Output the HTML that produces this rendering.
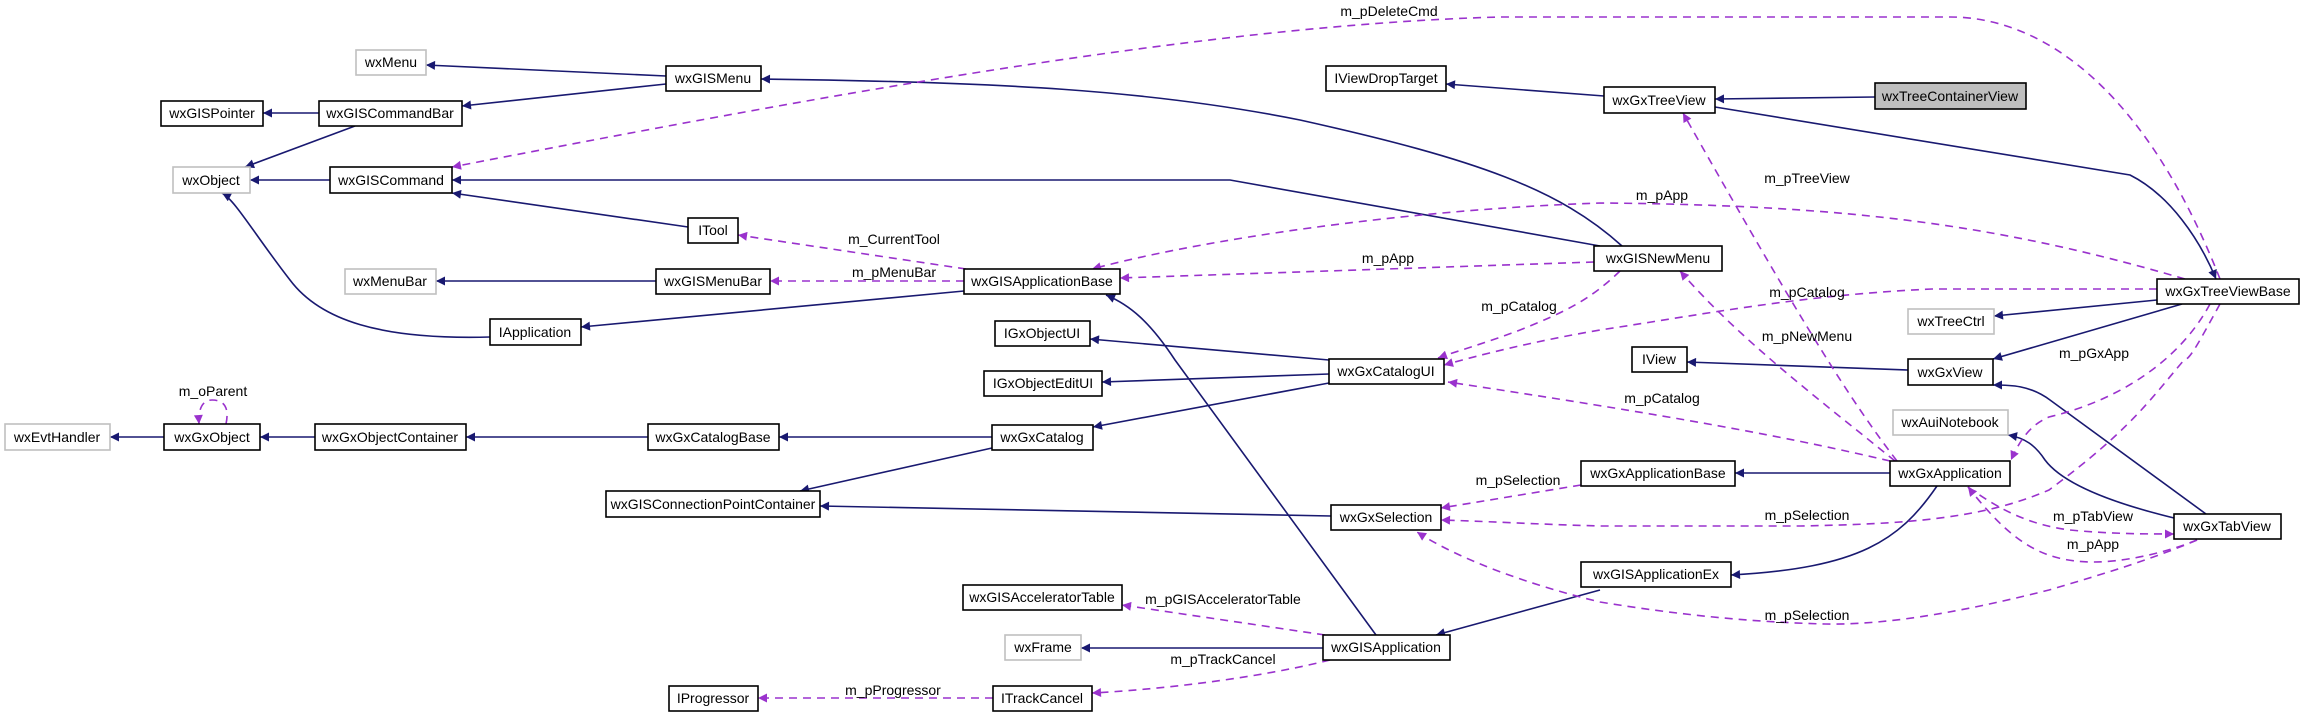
<!DOCTYPE html>
<html><head><meta charset="utf-8"><style>
html,body{margin:0;padding:0;background:#fff;}
svg{display:block;}
text{font-family:"Liberation Sans",sans-serif;font-size:14px;fill:#000;}
</style></head><body>
<svg width="2304" height="717" viewBox="0 0 2304 717" xmlns="http://www.w3.org/2000/svg">
<defs>
<marker id="n" viewBox="0 0 10 10" refX="10" refY="5" markerWidth="11" markerHeight="9" markerUnits="userSpaceOnUse" orient="auto"><path d="M0,0 L10,5 L0,10 z" fill="#191970"/></marker>
<marker id="p" viewBox="0 0 10 10" refX="10" refY="5" markerWidth="11" markerHeight="9" markerUnits="userSpaceOnUse" orient="auto"><path d="M0,0 L10,5 L0,10 z" fill="#9a32cd"/></marker>
</defs>
<g fill="none" stroke="#191970" stroke-width="1.6" marker-end="url(#n)">
<path d="M666,76 L426,65"/>
<path d="M666,84 L462,106"/>
<path d="M319,113 L263,113"/>
<path d="M355,126 L245,167"/>
<path d="M330,180 L250,180"/>
<path d="M688,227 L452,193"/>
<path d="M656,281 L436,281"/>
<path d="M490,337 C380,340 320,320 290,280 C255,235 235,200 222,193"/>
<path d="M964,291 L581,327"/>
<path d="M1622,246 C1560,190 1480,160 1300,120 C1150,90 1000,82 761,79"/>
<path d="M1600,246 L1230,180 L452,180"/>
<path d="M1604,96 L1446,84"/>
<path d="M1875,97 L1715,99"/>
<path d="M1715,107 L2130,175 C2170,195 2200,240 2216,279"/>
<path d="M2157,300 L1994,316"/>
<path d="M2182,304 L1993,359"/>
<path d="M1908,370 L1687,362"/>
<path d="M2206,514 L2050,400 C2030,385 2010,385 1993,385"/>
<path d="M2174,518 C2100,500 2060,480 2045,460 C2035,445 2025,438 2008,435"/>
<path d="M1890,473 L1735,473"/>
<path d="M1937,486 C1900,540 1860,568 1731,575"/>
<path d="M1600,590 L1436,635"/>
<path d="M1376,635 L1175,360 C1150,322 1130,305 1106,295"/>
<path d="M1323,648 L1081,648"/>
<path d="M1329,360 L1090,339"/>
<path d="M1329,374 L1102,382"/>
<path d="M1329,383 L1093,427"/>
<path d="M992,437 L779,437"/>
<path d="M992,448 L800,491"/>
<path d="M648,437 L466,437"/>
<path d="M315,437 L260,437"/>
<path d="M164,437 L110,437"/>
<path d="M1331,516 L820,506"/>
</g>
<g fill="none" stroke="#9a32cd" stroke-width="1.6" stroke-dasharray="8,6" marker-end="url(#p)">
<path d="M2220,279 C2150,100 2050,17 1950,17 L1500,17 C1200,25 800,100 452,167"/>
<path d="M966,269 L738,235"/>
<path d="M964,281 L770,281"/>
<path d="M2185,279 C2000,225 1850,205 1600,203 C1400,210 1200,240 1092,269"/>
<path d="M1594,262 L1120,278"/>
<path d="M1897,461 C1850,400 1800,320 1683,113"/>
<path d="M1620,271 C1590,300 1565,312 1520,330 C1480,345 1460,350 1438,358"/>
<path d="M2157,289 L1932,289 C1800,295 1700,315 1600,330 C1530,342 1480,355 1444,365"/>
<path d="M1895,461 C1820,400 1740,340 1680,271"/>
<path d="M1890,461 C1800,440 1700,420 1448,382"/>
<path d="M2210,304 C2180,360 2120,400 2049,417 C2030,425 2020,440 2011,460"/>
<path d="M2220,304 C2200,340 2190,360 2184,360 C2150,400 2130,430 2049,490 C1980,520 1900,524 1800,526 L1600,526 C1530,524 1480,521 1441,520"/>
<path d="M1581,485 L1441,508"/>
<path d="M1968,487 C2000,510 2030,525 2070,530 C2110,534 2150,534 2174,534"/>
<path d="M2197,540 C2160,555 2120,562 2094,562 C2040,562 2010,540 1968,487"/>
<path d="M2197,540 C2150,560 2100,575 2049,590 C1950,615 1880,625 1825,624 C1750,622 1680,615 1600,602 C1530,585 1460,560 1417,532"/>
<path d="M1325,635 L1122,605"/>
<path d="M1330,660 C1250,680 1150,690 1092,693"/>
<path d="M993,698 L758,698"/>
<path d="M226,424 C230,405 222,400 212,400 C202,400 198,410 199,424"/>
</g>
<g stroke-width="1.6">
<rect x="356" y="50" width="70" height="25" fill="#fff" stroke="#bfbfbf"/>
<rect x="666" y="66" width="95" height="25" fill="#fff" stroke="#000"/>
<rect x="161" y="101" width="102" height="25" fill="#fff" stroke="#000"/>
<rect x="319" y="101" width="143" height="25" fill="#fff" stroke="#000"/>
<rect x="173" y="167" width="77" height="26" fill="#fff" stroke="#bfbfbf"/>
<rect x="330" y="167" width="122" height="26" fill="#fff" stroke="#000"/>
<rect x="688" y="218" width="50" height="25" fill="#fff" stroke="#000"/>
<rect x="345" y="269" width="91" height="25" fill="#fff" stroke="#bfbfbf"/>
<rect x="656" y="269" width="114" height="25" fill="#fff" stroke="#000"/>
<rect x="490" y="319" width="91" height="26" fill="#fff" stroke="#000"/>
<rect x="5" y="424" width="105" height="26" fill="#fff" stroke="#bfbfbf"/>
<rect x="164" y="424" width="96" height="26" fill="#fff" stroke="#000"/>
<rect x="315" y="424" width="151" height="26" fill="#fff" stroke="#000"/>
<rect x="648" y="424" width="131" height="26" fill="#fff" stroke="#000"/>
<rect x="606" y="491" width="214" height="26" fill="#fff" stroke="#000"/>
<rect x="669" y="686" width="89" height="25" fill="#fff" stroke="#000"/>
<rect x="1326" y="66" width="120" height="25" fill="#fff" stroke="#000"/>
<rect x="964" y="269" width="156" height="25" fill="#fff" stroke="#000"/>
<rect x="995" y="321" width="95" height="25" fill="#fff" stroke="#000"/>
<rect x="1329" y="359" width="115" height="25" fill="#fff" stroke="#000"/>
<rect x="984" y="371" width="118" height="25" fill="#fff" stroke="#000"/>
<rect x="992" y="425" width="101" height="25" fill="#fff" stroke="#000"/>
<rect x="1331" y="505" width="110" height="25" fill="#fff" stroke="#000"/>
<rect x="963" y="585" width="159" height="25" fill="#fff" stroke="#000"/>
<rect x="1005" y="635" width="76" height="25" fill="#fff" stroke="#bfbfbf"/>
<rect x="1323" y="635" width="127" height="25" fill="#fff" stroke="#000"/>
<rect x="993" y="686" width="99" height="25" fill="#fff" stroke="#000"/>
<rect x="1604" y="87" width="111" height="26" fill="#fff" stroke="#000"/>
<rect x="1875" y="83" width="151" height="26" fill="#bfbfbf" stroke="#000"/>
<rect x="1594" y="246" width="128" height="25" fill="#fff" stroke="#000"/>
<rect x="2157" y="279" width="142" height="25" fill="#fff" stroke="#000"/>
<rect x="1908" y="309" width="86" height="25" fill="#fff" stroke="#bfbfbf"/>
<rect x="1632" y="347" width="55" height="25" fill="#fff" stroke="#000"/>
<rect x="1908" y="359" width="85" height="26" fill="#fff" stroke="#000"/>
<rect x="1893" y="410" width="115" height="25" fill="#fff" stroke="#bfbfbf"/>
<rect x="1581" y="461" width="154" height="25" fill="#fff" stroke="#000"/>
<rect x="1890" y="461" width="120" height="25" fill="#fff" stroke="#000"/>
<rect x="2174" y="514" width="107" height="25" fill="#fff" stroke="#000"/>
<rect x="1581" y="562" width="150" height="25" fill="#fff" stroke="#000"/>
</g>
<g text-anchor="middle">
<text x="391" y="67">wxMenu</text>
<text x="713" y="83">wxGISMenu</text>
<text x="212" y="118">wxGISPointer</text>
<text x="390" y="118">wxGISCommandBar</text>
<text x="211" y="185">wxObject</text>
<text x="391" y="185">wxGISCommand</text>
<text x="713" y="235">ITool</text>
<text x="390" y="286">wxMenuBar</text>
<text x="713" y="286">wxGISMenuBar</text>
<text x="535" y="337">IApplication</text>
<text x="57" y="442">wxEvtHandler</text>
<text x="212" y="442">wxGxObject</text>
<text x="390" y="442">wxGxObjectContainer</text>
<text x="713" y="442">wxGxCatalogBase</text>
<text x="713" y="509">wxGISConnectionPointContainer</text>
<text x="713" y="703">IProgressor</text>
<text x="1386" y="83">IViewDropTarget</text>
<text x="1042" y="286">wxGISApplicationBase</text>
<text x="1042" y="338">IGxObjectUI</text>
<text x="1386" y="376">wxGxCatalogUI</text>
<text x="1043" y="388">IGxObjectEditUI</text>
<text x="1042" y="442">wxGxCatalog</text>
<text x="1386" y="522">wxGxSelection</text>
<text x="1042" y="602">wxGISAcceleratorTable</text>
<text x="1043" y="652">wxFrame</text>
<text x="1386" y="652">wxGISApplication</text>
<text x="1042" y="703">ITrackCancel</text>
<text x="1659" y="105">wxGxTreeView</text>
<text x="1950" y="101">wxTreeContainerView</text>
<text x="1658" y="263">wxGISNewMenu</text>
<text x="2228" y="296">wxGxTreeViewBase</text>
<text x="1951" y="326">wxTreeCtrl</text>
<text x="1659" y="364">IView</text>
<text x="1950" y="377">wxGxView</text>
<text x="1950" y="427">wxAuiNotebook</text>
<text x="1658" y="478">wxGxApplicationBase</text>
<text x="1950" y="478">wxGxApplication</text>
<text x="2227" y="531">wxGxTabView</text>
<text x="1656" y="579">wxGISApplicationEx</text>
<text x="1389" y="16">m_pDeleteCmd</text>
<text x="894" y="244">m_CurrentTool</text>
<text x="894" y="277">m_pMenuBar</text>
<text x="1388" y="263">m_pApp</text>
<text x="1519" y="311">m_pCatalog</text>
<text x="1518" y="485">m_pSelection</text>
<text x="1223" y="604">m_pGISAcceleratorTable</text>
<text x="1223" y="664">m_pTrackCancel</text>
<text x="893" y="695">m_pProgressor</text>
<text x="213" y="396">m_oParent</text>
<text x="1807" y="183">m_pTreeView</text>
<text x="1662" y="200">m_pApp</text>
<text x="1807" y="297">m_pCatalog</text>
<text x="1807" y="341">m_pNewMenu</text>
<text x="2094" y="358">m_pGxApp</text>
<text x="1662" y="403">m_pCatalog</text>
<text x="1807" y="520">m_pSelection</text>
<text x="2093" y="521">m_pTabView</text>
<text x="2093" y="549">m_pApp</text>
<text x="1807" y="620">m_pSelection</text>
</g>
</svg>
</body></html>
